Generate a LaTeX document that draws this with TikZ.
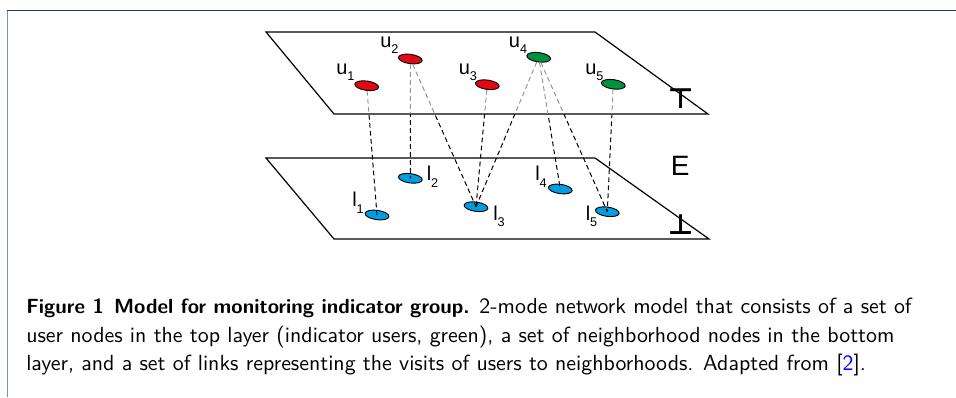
\documentclass[tikz,border=0pt]{standalone}
\usepackage{fontspec}
\newfontfamily\labfont{Liberation Sans}
\newfontfamily\symfont{DejaVu Sans}
\newfontfamily\capfont{lmsans10-regular.otf}[BoldFont=lmsans10-bold.otf]
\usetikzlibrary{shapes.geometric}
\definecolor{ured}{RGB}{226,8,20}
\definecolor{ugreen}{RGB}{0,146,64}
\definecolor{lblue}{RGB}{0,157,224}
\definecolor{frametop}{RGB}{20,60,120}
\definecolor{frameleft}{RGB}{125,145,175}
\definecolor{linkgray}{RGB}{150,150,150}
\newcommand{\sub}[1]{\raisebox{-5pt}{\fontsize{9.5}{10}\selectfont #1}}
\tikzset{
  plane/.style={draw=black, line width=0.9pt, line join=miter},
  usernode/.style={ellipse, draw=black, line width=0.7pt, minimum width=18pt, minimum height=7pt, inner sep=0pt, rotate=-8},
  redu/.style={usernode, fill=ured},
  greenu/.style={usernode, fill=ugreen},
  loc/.style={usernode, fill=lblue},
  lab/.style={anchor=base west, inner sep=0pt, font=\labfont\fontsize{15}{16}\selectfont},
  symb/.style={anchor=base, inner sep=0pt, font=\symfont\bfseries\fontsize{21}{22}\selectfont},
  link/.style={dash pattern=on 3.6pt off 2.4pt, line width=0.75pt},
  captext/.style={anchor=base west, inner sep=0pt, font=\capfont\fontsize{16.4}{18}\selectfont}
}
\begin{document}
\begin{tikzpicture}[x=0.75pt,y=-0.75pt]
\useasboundingbox (0,0) rectangle (956,397);
% frame
\draw[frameleft, line width=1.2pt] (7.5,10.5) -- (7.5,397);
\draw[frametop, line width=1.3pt] (7,10.5) -- (956,10.5);
% planes
\draw[plane] (266,32) -- (595,32) -- (708,114) -- (334,114) -- cycle;
\draw[plane] (266,158) -- (595,158) -- (709,239) -- (334,239) -- cycle;
% nodes
\node[redu] (u1) at (366.7,85.7) {};
\node[redu] (u2) at (410.3,59) {};
\node[redu] (u3) at (487.3,84.7) {};
\node[greenu] (u4) at (538.7,57.3) {};
\node[greenu] (u5) at (613.3,84.3) {};
\node[loc] (l1) at (377,215) {};
\node[loc] (l2) at (410.3,178.3) {};
\node[loc] (l3) at (476,206.7) {};
\node[loc] (l4) at (560.3,189) {};
\node[loc] (l5) at (607.3,211.7) {};
% links: grey on the top plane, black below it
\begin{scope}
\clip (0,0) rectangle (956,114);
\begin{scope}[link, draw=linkgray]
\draw (u1) -- (l1.center);
\draw (u2) -- (l2.center);
\draw (u2) -- (l3.center);
\draw (u3) -- (l3.center);
\draw (u4) -- (l3.center);
\draw (u4) -- (l4.center);
\draw (u4) -- (l5.center);
\draw (u5) -- (l5.center);
\end{scope}
\end{scope}
\begin{scope}
\clip (0,114) rectangle (956,397);
\begin{scope}[link, draw=black]
\draw (u1) -- (l1.center);
\draw (u2) -- (l2.center);
\draw (u2) -- (l3.center);
\draw (u3) -- (l3.center);
\draw (u4) -- (l3.center);
\draw (u4) -- (l4.center);
\draw (u4) -- (l5.center);
\draw (u5) -- (l5.center);
\end{scope}
\end{scope}
% labels
\node[lab] (tu1) at (336,74.3) {u\sub{1}};
\node[lab] (tu2) at (380,47.3) {u\sub{2}};
\node[lab] (tu3) at (458.5,74.3) {u\sub{3}};
\node[lab] (tu4) at (508.7,47.3) {u\sub{4}};
\node[lab] (tu5) at (585,74.3) {u\sub{5}};
\node[lab] (tl1) at (352,206.7) {l\sub{1}};
\node[lab] (tl2) at (426.5,180.7) {l\sub{2}};
\node[lab] (tl3) at (493,220) {l\sub{3}};
\node[lab] (tl4) at (535,180.7) {l\sub{4}};
\node[lab] (tl5) at (585.5,220) {l\sub{5}};
\node[anchor=base west, inner sep=0pt, font=\labfont\fontsize{21}{22}\selectfont] (E) at (670.5,175) {E};
\node[symb] (top) at (680.7,108) {⊤};
\node[symb] (bot) at (680.7,234) {⊥};
% caption
\node[captext] (c1) at (26,313.5) {{\bfseries\fontsize{15.4}{18}\selectfont Figure 1\hspace{0.5em}Model for monitoring indicator group.} 2-mode network model that consists of a set of};
\node[captext] (c2) at (26,342) {user nodes in the top layer (indicator users, green), a set of neighborhood nodes in the bottom};
\node[captext] (c3) at (26,370.5) {layer, and a set of links representing the visits of users to neighborhoods. Adapted from [{\color{blue}2}].};
\end{tikzpicture}
\end{document}
